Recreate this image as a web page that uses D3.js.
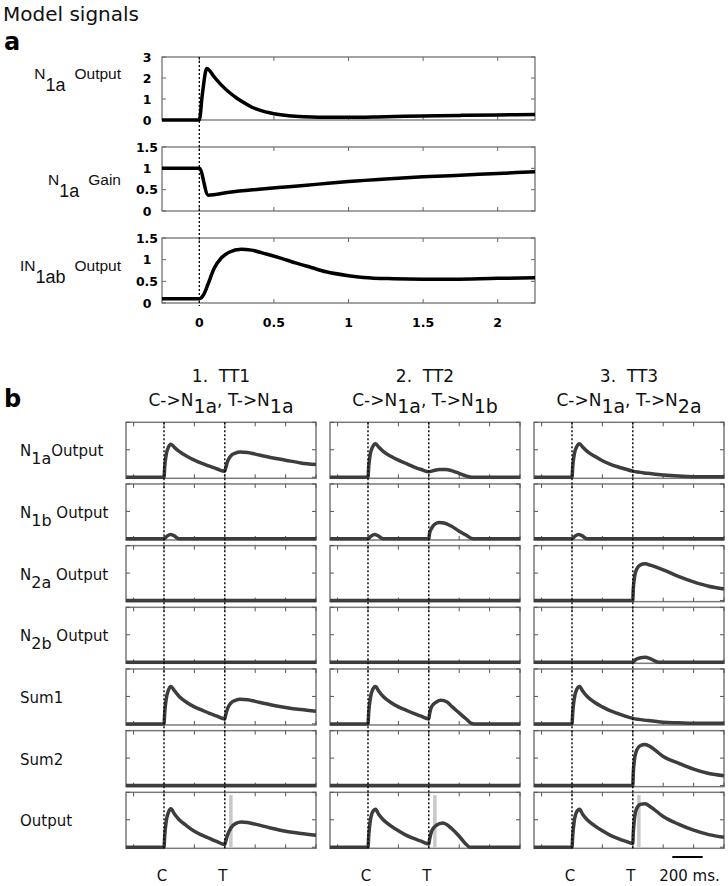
<!DOCTYPE html>
<html>
<head>
<meta charset="utf-8">
<script src="https://cdn.jsdelivr.net/npm/d3@7"></script>
<style>
body { margin: 0; background: #fff; }
svg { font-family: "DejaVu Sans", Arial, sans-serif; }
text { white-space: pre; }
</style>
</head>
<body>
<svg id="svg" width="728" height="886"></svg>
<script>
// ---- panel a data: [time (s), value]
var aN1aOutput = [[-0.25,0],[0,0],[0.02,1.2],[0.05,2.45],[0.1,2.05],[0.15,1.65],[0.2,1.32],[0.25,1.05],[0.3,0.82],
  [0.35,0.62],[0.4,0.48],[0.5,0.3],[0.6,0.2],[0.7,0.15],[0.8,0.13],[1.0,0.13],[1.25,0.16],[1.5,0.19],[1.75,0.22],[2.0,0.24],[2.25,0.26]];
var aN1aGain = [[-0.25,1],[0,1],[0.06,0.37],[0.2,0.44],[0.4,0.51],[0.6,0.57],[0.8,0.63],[1.0,0.69],[1.25,0.75],
  [1.5,0.8],[1.75,0.84],[2.0,0.88],[2.25,0.92]];
var aIN1abOutput = [[-0.25,0.1],[0,0.1],[0.03,0.2],[0.06,0.45],[0.1,0.8],[0.15,1.05],[0.2,1.17],[0.28,1.24],[0.35,1.22],
  [0.45,1.13],[0.55,1.03],[0.65,0.92],[0.75,0.82],[0.85,0.72],[1.0,0.63],[1.1,0.59],[1.3,0.56],[1.5,0.55],[1.7,0.55],[2.0,0.57],[2.25,0.58]];
var aXTicks = [0, 0.5, 1, 1.5, 2];

// ---- panel b data: [time (s), value], C at 0.2 s, T at 0.6 s
var cueTimes = [0.2, 0.6];
var cueLabels = ['C', 'T'];
var bXTicks = [0, 0.2, 0.4, 0.6, 0.8, 1.0, 1.2];
var bYTicks = [0, 0.5, 1];
var flat = [[-0.05,0],[1.2,0]];

var tt1N1a = [[-0.05,0],[0.2,0],[0.205,0.2],[0.215,0.42],[0.23,0.55],[0.245,0.6],[0.27,0.54],[0.3,0.47],[0.35,0.38],[0.4,0.31],
  [0.45,0.25],[0.5,0.2],[0.55,0.15],[0.6,0.11],[0.605,0.16],[0.62,0.3],[0.64,0.39],[0.67,0.44],[0.7,0.46],[0.75,0.45],
  [0.8,0.42],[0.9,0.36],[1.0,0.31],[1.1,0.26],[1.2,0.23]];
var tt1N1b = [[-0.05,0],[0.2,0],[0.22,0.05],[0.245,0.08],[0.27,0.05],[0.29,0.01],[0.31,0],[1.2,0]];
var tt1Sum1 = [[-0.05,0],[0.2,0],[0.205,0.22],[0.215,0.46],[0.23,0.62],[0.245,0.68],[0.27,0.6],[0.3,0.5],[0.35,0.39],[0.4,0.31],
  [0.45,0.25],[0.5,0.19],[0.55,0.14],[0.6,0.09],[0.605,0.15],[0.62,0.29],[0.64,0.38],[0.67,0.43],[0.7,0.45],[0.75,0.44],
  [0.8,0.41],[0.9,0.35],[1.0,0.3],[1.1,0.26],[1.2,0.23]];
var tt1Output = [[-0.05,0],[0.2,0],[0.205,0.22],[0.215,0.48],[0.23,0.64],[0.245,0.7],[0.27,0.6],[0.3,0.5],[0.35,0.39],[0.4,0.29],
  [0.45,0.22],[0.5,0.16],[0.55,0.1],[0.6,0.05],[0.605,0.1],[0.62,0.24],[0.64,0.35],[0.67,0.43],[0.71,0.46],[0.75,0.45],
  [0.8,0.42],[0.9,0.35],[1.0,0.29],[1.1,0.25],[1.2,0.22]];

var tt2N1a = [[-0.05,0],[0.2,0],[0.205,0.2],[0.215,0.42],[0.23,0.55],[0.25,0.61],[0.27,0.55],[0.3,0.47],[0.35,0.38],[0.4,0.31],
  [0.45,0.25],[0.5,0.19],[0.55,0.14],[0.6,0.1],[0.63,0.12],[0.67,0.14],[0.71,0.14],[0.75,0.12],[0.8,0.07],[0.85,0.02],[0.88,0],[1.2,0]];
var tt2N1b = [[-0.05,0],[0.2,0],[0.22,0.05],[0.245,0.08],[0.27,0.05],[0.29,0.01],[0.31,0],[0.6,0],[0.605,0.1],[0.62,0.2],
  [0.64,0.27],[0.67,0.3],[0.7,0.29],[0.75,0.23],[0.8,0.14],[0.85,0.06],[0.88,0.01],[0.9,0],[1.2,0]];
var tt2Sum1 = [[-0.05,0],[0.2,0],[0.205,0.22],[0.215,0.46],[0.23,0.62],[0.25,0.68],[0.27,0.6],[0.3,0.5],[0.35,0.39],[0.4,0.31],
  [0.45,0.25],[0.5,0.19],[0.55,0.14],[0.6,0.09],[0.605,0.18],[0.62,0.32],[0.65,0.4],[0.68,0.43],[0.72,0.4],[0.75,0.32],
  [0.8,0.2],[0.85,0.08],[0.88,0.01],[0.9,0],[1.2,0]];
var tt2Output = [[-0.05,0],[0.2,0],[0.205,0.22],[0.215,0.48],[0.23,0.64],[0.25,0.69],[0.27,0.6],[0.3,0.5],[0.35,0.39],[0.4,0.3],
  [0.45,0.22],[0.5,0.16],[0.55,0.11],[0.6,0.06],[0.605,0.14],[0.62,0.3],[0.65,0.4],[0.69,0.44],[0.72,0.41],[0.75,0.34],
  [0.8,0.2],[0.84,0.07],[0.87,0],[1.2,0]];

var tt3N1a = [[-0.05,0],[0.2,0],[0.205,0.2],[0.215,0.42],[0.23,0.55],[0.25,0.61],[0.27,0.55],[0.3,0.47],[0.35,0.38],[0.4,0.3],
  [0.45,0.24],[0.5,0.19],[0.55,0.15],[0.6,0.11],[0.7,0.07],[0.8,0.04],[0.9,0.02],[1.0,0.01],[1.2,0.01]];
var tt3N1b = [[-0.05,0],[0.2,0],[0.22,0.05],[0.245,0.08],[0.27,0.05],[0.29,0.01],[0.31,0],[1.2,0]];
var tt3N2a = [[-0.05,0],[0.6,0],[0.603,0.2],[0.61,0.4],[0.625,0.57],[0.65,0.65],[0.68,0.67],[0.72,0.64],[0.8,0.56],
  [0.9,0.44],[1.0,0.34],[1.1,0.26],[1.2,0.21]];
var tt3N2b = [[-0.05,0],[0.6,0],[0.62,0.05],[0.65,0.08],[0.68,0.09],[0.71,0.07],[0.74,0.03],[0.77,0],[1.2,0]];
var tt3Sum1 = [[-0.05,0],[0.2,0],[0.205,0.22],[0.215,0.46],[0.23,0.62],[0.25,0.68],[0.27,0.6],[0.3,0.5],[0.35,0.39],[0.4,0.31],
  [0.45,0.24],[0.5,0.19],[0.55,0.14],[0.6,0.1],[0.7,0.06],[0.8,0.03],[0.9,0.02],[1.0,0.01],[1.2,0.01]];
var tt3Sum2 = [[-0.05,0],[0.6,0],[0.603,0.22],[0.61,0.45],[0.625,0.64],[0.65,0.73],[0.68,0.75],[0.72,0.7],[0.8,0.53],
  [0.9,0.41],[1.0,0.3],[1.1,0.22],[1.2,0.18]];
var tt3Output = [[-0.05,0],[0.2,0],[0.205,0.22],[0.215,0.48],[0.23,0.64],[0.25,0.69],[0.27,0.6],[0.3,0.5],[0.35,0.39],[0.4,0.3],
  [0.45,0.22],[0.5,0.16],[0.55,0.11],[0.6,0.07],[0.603,0.25],[0.61,0.5],[0.625,0.7],[0.65,0.78],[0.68,0.79],[0.72,0.73],
  [0.8,0.56],[0.9,0.42],[1.0,0.31],[1.1,0.23],[1.2,0.18]];

var spikeTime = 0.64;
var spikeHeight = 0.95;
var scaleBar = [0.86, 1.06];

var colTitles = ['1.  TT1', '2.  TT2', '3.  TT3'];
var colTargets = [['1a', '1a'], ['1a', '1b'], ['1a', '2a']];
var colSignals = [
  [tt1N1a, tt1N1b, flat, flat, tt1Sum1, flat, tt1Output],
  [tt2N1a, tt2N1b, flat, flat, tt2Sum1, flat, tt2Output],
  [tt3N1a, tt3N1b, tt3N2a, tt3N2b, tt3Sum1, tt3Sum2, tt3Output]
];
var rowLabels = [
  [['N',0],['1a',1],['Output',0]],
  [['N',0],['1b',1],[' Output',0]],
  [['N',0],['2a',1],[' Output',0]],
  [['N',0],['2b',1],[' Output',0]],
  [['Sum1',0]],
  [['Sum2',0]],
  [['Output',0]]
];

var svg = d3.select('svg');

// text with subscript pieces: [text, isSub, fontSize?, dx?]
function subText(x, y, parts, size, subSize, shift, anchor, family) {
  var t = svg.append('text')
    .attr('x', x)
    .attr('y', y)
    .attr('text-anchor', anchor)
    .attr('fill', '#111')
    .style('font-size', size + 'px');
  if (family) t.style('font-family', family);
  var cur = 0;
  parts.forEach(function (p) {
    var want = p[1] ? shift : 0;
    t.append('tspan')
      .attr('dy', want - cur)
      .attr('dx', p[3] || 0)
      .style('font-size', (p[2] || (p[1] ? subSize : size)) + 'px')
      .text(p[0]);
    cur = want;
  });
  return t;
}

svg.append('text').text('Model signals')
  .attr('x', 3).attr('y', 21).style('font-size', '20px').attr('fill', '#111');
svg.append('text').text('a')
  .attr('x', 4).attr('y', 50).style('font-size', '24px').style('font-weight', 'bold');
svg.append('text').text('b')
  .attr('x', 4).attr('y', 407).style('font-size', '24px').style('font-weight', 'bold');

// ---------------- panel a ----------------
var xA = d3.scaleLinear().domain([-0.25, 2.25]).range([162, 535]);
var panelsA = [
  {top: 57, bottom: 120, dom: [0, 3], ticks: [0, 1, 2, 3], data: aN1aOutput,
   label: [['N',0],['1a',1],['Output',0,null,9]], ly: 79},
  {top: 147, bottom: 211, dom: [0, 1.5], ticks: [0, 0.5, 1, 1.5], data: aN1aGain,
   label: [['N',0],['1a',1],['Gain',0,null,9]], ly: 185},
  {top: 238, bottom: 303, dom: [0, 1.5], ticks: [0, 0.5, 1, 1.5], data: aIN1abOutput,
   label: [['IN',0],['1ab',1],['Output',0,null,9]], ly: 271}
];

panelsA.forEach(function (p) {
  var y = d3.scaleLinear().domain(p.dom).range([p.bottom, p.top]);
  var g = svg.append('g');
  g.append('rect')
    .attr('x', xA.range()[0]).attr('y', p.top)
    .attr('width', xA.range()[1] - xA.range()[0]).attr('height', p.bottom - p.top)
    .attr('fill', 'none').attr('stroke', '#666').attr('stroke-width', 1.2);
  aXTicks.forEach(function (t) {
    g.append('line').attr('x1', xA(t)).attr('x2', xA(t)).attr('y1', p.bottom).attr('y2', p.bottom - 4)
      .attr('stroke', '#666');
    g.append('line').attr('x1', xA(t)).attr('x2', xA(t)).attr('y1', p.top).attr('y2', p.top + 4)
      .attr('stroke', '#666');
  });
  p.ticks.forEach(function (v) {
    g.append('line').attr('x1', xA.range()[0]).attr('x2', xA.range()[0] + 4).attr('y1', y(v)).attr('y2', y(v))
      .attr('stroke', '#666');
    g.append('line').attr('x1', xA.range()[1]).attr('x2', xA.range()[1] - 4).attr('y1', y(v)).attr('y2', y(v))
      .attr('stroke', '#666');
    g.append('text').text(String(v))
      .attr('x', 147).attr('y', y(v)).attr('dy', '0.36em')
      .attr('text-anchor', 'middle')
      .style('font-size', '12.5px').style('font-weight', 'bold');
  });
  var line = d3.line()
    .x(function (d) { return xA(d[0]); })
    .y(function (d) { return y(d[1]); })
    .curve(d3.curveMonotoneX);
  g.append('path').datum(p.data)
    .attr('d', line)
    .attr('fill', 'none').attr('stroke', '#000').attr('stroke-width', 3.5)
    .attr('stroke-linejoin', 'round');
  subText(121, p.ly, p.label, 15.5, 18, 12, 'end', '"Liberation Sans", Arial, sans-serif');
});

svg.append('line')
  .attr('x1', xA(0)).attr('x2', xA(0)).attr('y1', 57).attr('y2', 306)
  .attr('stroke', '#000').attr('stroke-width', 1.3).attr('stroke-dasharray', '2,2');

aXTicks.forEach(function (t) {
  svg.append('text').text(String(t))
    .attr('x', xA(t)).attr('y', 327).attr('text-anchor', 'middle')
    .style('font-size', '12.5px').style('font-weight', 'bold');
});

// ---------------- panel b ----------------
var colLeft = [126, 330, 534];
var colW = 190;
var rowTop0 = 422.3;
var rowStep = 61.67;
var rowH = 56;

colLeft.forEach(function (left, ci) {
  var x = d3.scaleLinear().domain([-0.05, 1.2]).range([left, left + colW]);
  var cx = left + colW / 2;

  svg.append('text').text(colTitles[ci])
    .attr('x', cx).attr('y', 382).attr('text-anchor', 'middle')
    .style('font-size', '17px').attr('fill', '#111');
  var tg = colTargets[ci];
  subText(cx, 406, [['C->N',0],[tg[0],1],[', T->N',0],[tg[1],1]], 17, 19, 7, 'middle');

  colSignals[ci].forEach(function (sig, ri) {
    var top = rowTop0 + ri * rowStep;
    var bottom = top + rowH;
    var y = d3.scaleLinear().domain([-0.02, 1]).range([bottom, top]);
    var g = svg.append('g');
    g.append('rect')
      .attr('x', left).attr('y', top).attr('width', colW).attr('height', rowH)
      .attr('fill', 'none').attr('stroke', '#7a7a7a').attr('stroke-width', 1.5);
    bXTicks.forEach(function (t) {
      g.append('line').attr('x1', x(t)).attr('x2', x(t)).attr('y1', top).attr('y2', top + 4).attr('stroke', '#555');
      g.append('line').attr('x1', x(t)).attr('x2', x(t)).attr('y1', bottom).attr('y2', bottom - 4).attr('stroke', '#555');
    });
    bYTicks.forEach(function (v) {
      g.append('line').attr('x1', left).attr('x2', left + 4).attr('y1', y(v)).attr('y2', y(v)).attr('stroke', '#555');
      g.append('line').attr('x1', left + colW).attr('x2', left + colW - 4).attr('y1', y(v)).attr('y2', y(v)).attr('stroke', '#555');
    });
    if (ri === 6) {
      g.append('line')
        .attr('x1', x(spikeTime)).attr('x2', x(spikeTime))
        .attr('y1', y(0)).attr('y2', y(spikeHeight))
        .attr('stroke', '#c8c8c8').attr('stroke-width', 3.5);
    }
    var line = d3.line()
      .x(function (d) { return x(d[0]); })
      .y(function (d) { return y(d[1]); })
      .curve(d3.curveMonotoneX);
    g.append('path').datum(sig)
      .attr('d', line)
      .attr('fill', 'none').attr('stroke', '#3d3d3d').attr('stroke-width', 3.5)
      .attr('stroke-linejoin', 'round');

    if (ci === 0) {
      subText(20, top + rowH / 2 + 6, rowLabels[ri], 15, 16, 8, 'start');
    }
  });

  cueTimes.forEach(function (t, k) {
    svg.append('line')
      .attr('x1', x(t)).attr('x2', x(t))
      .attr('y1', rowTop0).attr('y2', rowTop0 + 6 * rowStep + rowH)
      .attr('stroke', '#000').attr('stroke-width', 1.4).attr('stroke-dasharray', '2,2');
    svg.append('text').text(cueLabels[k])
      .attr('x', x(t) - 2).attr('y', 881).attr('text-anchor', 'middle')
      .style('font-size', '15px').attr('fill', '#111');
  });

  if (ci === 2) {
    svg.append('line')
      .attr('x1', x(scaleBar[0])).attr('x2', x(scaleBar[1]))
      .attr('y1', 857).attr('y2', 857)
      .attr('stroke', '#000').attr('stroke-width', 2);
    svg.append('text').text('200 ms.')
      .attr('x', (x(scaleBar[0]) + x(scaleBar[1])) / 2 + 2).attr('y', 881)
      .attr('text-anchor', 'middle')
      .style('font-size', '15px').attr('fill', '#111');
  }
});
</script>
</body>
</html>
